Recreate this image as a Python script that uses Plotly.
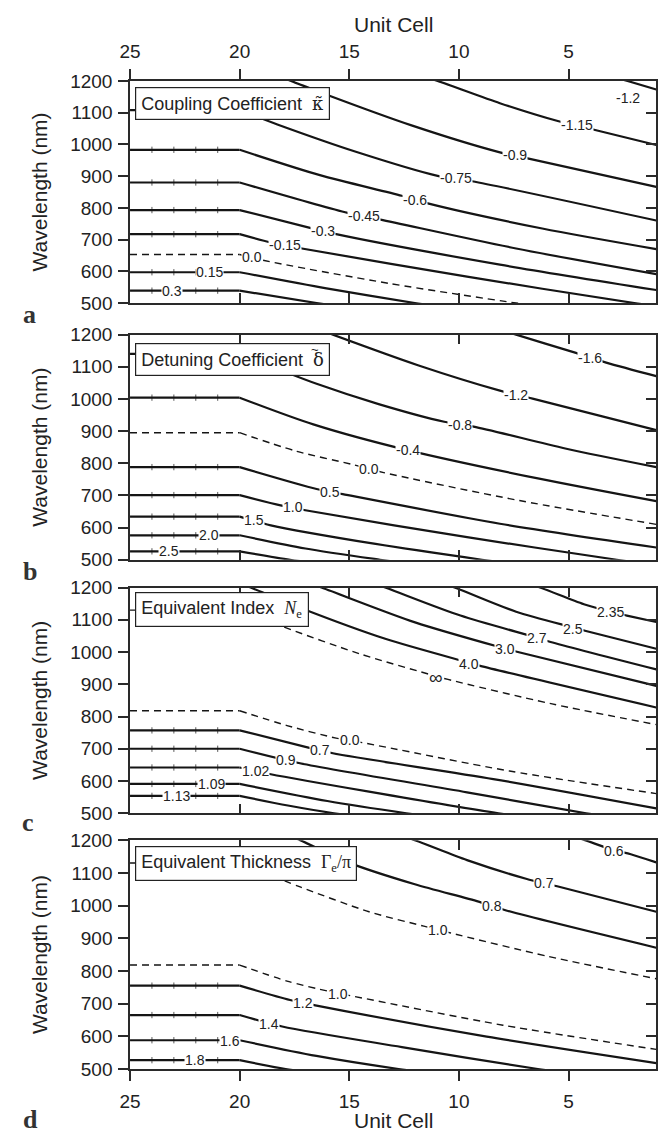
import plotly.graph_objects as go

# ---------------- data ----------------
UNIT_TICKS = [25, 20, 15, 10, 5]
WL_TICKS = [500, 600, 700, 800, 900, 1000, 1100, 1200]
UNIT_FLAT = [25, 24, 23, 22, 21, 20]

# (a) coupling coefficient
A_LEVELS = ["-1.2", "-1.15", "-0.9", "-0.75", "-0.6", "-0.45", "-0.3", "-0.15", "0.0", "0.15", "0.3"]
A_FLAT = [None, None, None, 1108, 983, 880, 793, 717, 653, 597, 539]
A_CURVE_X = [
    [4.0, 2.31, 1.0],
    [13.0, 10.97, 8.13, 5.45, 3.88, 1.0],
    [19.0, 17.54, 16.12, 12.16, 8.13, 6.87, 1.0],
    [18.28, 14.7, 10.97, 9.4, 1.0],
    [16.34, 12.61, 11.42, 6.2, 1.0],
    [15.07, 13.58, 7.39, 1.0],
    [16.79, 15.6, 8.13, 1.0],
    [18.58, 17.16, 9.63, 2.0, 1.0],
    [18.88, 13.2, 7.39, 5.0],
    [16.04, 12.01, 10.0],
    [16.49, 14.0],
]
A_CURVE_Y = [
    [1233, 1200, 1173],
    [1245, 1200, 1130, 1073, 1047, 998],
    [1236, 1197, 1159, 1060, 975, 956, 866],
    [1063, 977, 901, 884, 760],
    [903, 838, 814, 735, 670],
    [784, 763, 672, 591],
    [737, 717, 621, 541],
    [691, 672, 583, 500, 490],
    [634, 562, 500, 478],
    [546, 500, 480],
    [500, 474],
]
A_LABEL_X = [2.31, 4.63, 7.46, 10.15, 12.01, 14.33, 16.19, 17.91, 19.45, 21.38, 23.1]
A_LABEL_Y = [1145, 1062, 967, 893, 826, 774, 727, 682, 646, 597, 539]

# (b) detuning coefficient
B_LEVELS = ["-1.6", "-1.2", "-0.8", "-0.4", "0.0", "0.5", "1.0", "1.5", "2.0", "2.5"]
B_FLAT = [None, None, 1140, 1004, 895, 788, 701, 634, 576, 526]
B_CURVE_X = [
    [9.0, 7.39, 4.7, 3.28, 1.0],
    [17.5, 15.75, 11.87, 8.13, 6.64, 1.0],
    [16.49, 13.66, 10.67, 9.33, 5.15, 1.0],
    [16.64, 12.3, 6.34, 1.0],
    [17.39, 14.85, 13.43, 7.24, 1.0],
    [16.49, 15.3, 8.13, 1.0],
    [18.13, 16.94, 9.63, 2.8, 1.0],
    [18.58, 13.8, 8.95, 7.0],
    [17.0, 13.6, 12.0],
    [17.7, 16.0],
]
B_CURVE_Y = [
    [1236, 1200, 1144, 1113, 1071],
    [1245, 1200, 1105, 1026, 1001, 903],
    [1047, 984, 929, 914, 846, 788],
    [921, 840, 752, 682],
    [837, 796, 771, 684, 610],
    [720, 704, 612, 538],
    [669, 653, 570, 500, 482],
    [607, 549, 500, 482],
    [535, 500, 485],
    [500, 485],
]
B_LABEL_X = [4.0, 7.39, 9.93, 12.3, 14.1, 15.88, 17.56, 19.35, 21.42, 23.2]
B_LABEL_Y = [1127, 1013, 920, 840, 783, 712, 664, 624, 576, 526]

# (c) equivalent index
C_LEVELS = ["2.35", "2.5", "2.7", "3.0", "4.0", "\u221e", "0.0", "0.7", "0.9", "1.02", "1.09", "1.13"]
C_FLAT = [None, None, None, None, None, 1130, 818, 757, 700, 642, 591, 554]
C_CURVE_X = [
    [8.0, 6.3, 4.3, 3.1, 2.34, 1.0],
    [11.5, 10.2, 7.39, 4.78, 4.25, 1.0],
    [15.0, 13.36, 9.93, 6.42, 5.82, 1.0],
    [18.0, 16.27, 12.0, 7.91, 7.31, 1.0],
    [20.5, 19.5, 17.16, 13.36, 9.55, 9.03, 1.0],
    [18.13, 14.55, 11.04, 10.5, 5.75, 1.0],
    [17.84, 15.6, 14.25, 7.69, 1.0],
    [17.0, 15.75, 8.43, 1.0],
    [17.25, 9.63, 4.2, 2.0],
    [18.58, 14.1, 8.2, 6.0],
    [16.0, 12.4, 11.0],
    [17.8, 15.7, 14.0],
]
C_CURVE_Y = [
    [1240, 1200, 1148, 1125, 1113, 1093],
    [1230, 1200, 1125, 1076, 1066, 1010],
    [1240, 1200, 1113, 1044, 1031, 946],
    [1242, 1200, 1092, 1011, 1000, 895],
    [1227, 1200, 1135, 1041, 967, 957, 828],
    [1081, 995, 925, 915, 839, 775],
    [772, 733, 717, 631, 561],
    [706, 686, 606, 515],
    [655, 565, 500, 478],
    [621, 567, 500, 480],
    [538, 500, 487],
    [524, 500, 485],
]
C_LABEL_X = [3.1, 4.78, 6.42, 7.91, 9.55, 11.04, 14.97, 16.32, 17.88, 19.26, 21.28, 22.9]
C_LABEL_Y = [1124, 1072, 1042, 1008, 964, 922, 727, 697, 664, 630, 591, 554]

# (d) equivalent thickness
D_LEVELS = ["0.6", "0.7", "0.8", "1.0", "1.0", "1.2", "1.4", "1.6", "1.8"]
D_FLAT = [None, None, None, 1130, 818, 755, 665, 588, 527]
D_CURVE_X = [
    [6.0, 4.25, 2.91, 2.16, 1.0],
    [14.0, 12.01, 9.63, 6.94, 5.52, 1.0],
    [19.0, 17.24, 14.93, 12.01, 9.1, 7.84, 1.0],
    [17.24, 14.1, 11.6, 10.37, 5.9, 1.0],
    [17.84, 15.9, 14.85, 7.99, 1.0],
    [17.7, 16.49, 8.73, 1.0],
    [18.06, 12.6, 6.4, 4.0],
    [16.5, 12.75, 11.0],
    [17.9, 16.0],
]
D_CURVE_Y = [
    [1240, 1200, 1169, 1157, 1132],
    [1245, 1200, 1139, 1082, 1059, 981],
    [1250, 1200, 1129, 1065, 1012, 985, 871],
    [1057, 981, 937, 916, 844, 776],
    [769, 737, 723, 634, 560],
    [711, 694, 599, 518],
    [630, 567, 500, 478],
    [540, 500, 485],
    [500, 482],
]
D_LABEL_X = [2.91, 6.12, 8.51, 10.97, 15.52, 17.09, 18.66, 20.42, 22.05]
D_LABEL_Y = [1167, 1068, 998, 926, 730, 701, 637, 587, 527]

SERIF = "'Liberation Serif', 'Times New Roman', serif"
GREEK = "'DejaVu Serif', serif"
TITLES = [
    "Coupling Coefficient  <span style=\"font-family:" + GREEK + "\">\u03ba\u0303</span>",
    "Detuning Coefficient  <span style=\"font-family:" + GREEK + "\">\u03b4</span>",
    "Equivalent Index  <span style=\"font-family:" + SERIF + "\"><i>N</i><sub>e</sub></span>",
    "Equivalent Thickness  <span style=\"font-family:" + SERIF + "\">\u0393<sub>e</sub>/\u03c0</span>",
]
PANEL_LETTERS = ["a", "b", "c", "d"]
DASHED = [{"0.0"}, {"0.0"}, {"0.0", "\u221e"}, {"1.0"}]

# ---------------- layout constants ----------------
W, H = 671, 1144
PX_L, PX_R = 121, 656
PANELS_PX = [(72.3, 298.5), (330.7, 560.0), (588.3, 818.3), (845.7, 1078.8)]
BOX_PX = [(126, 78), (126, 339), (126, 593), (126, 852)]
DELTA_TILDE_PX = (309.5, 346)
LETTER_PX = [(19, 310), (19, 572), (17, 828), (20, 1130)]
INK = "#151515"
AX = "#2a2a2a"
SANS = "'Liberation Sans', Arial, Helvetica, sans-serif"

panels = [
    (A_LEVELS, A_FLAT, A_CURVE_X, A_CURVE_Y, A_LABEL_X, A_LABEL_Y),
    (B_LEVELS, B_FLAT, B_CURVE_X, B_CURVE_Y, B_LABEL_X, B_LABEL_Y),
    (C_LEVELS, C_FLAT, C_CURVE_X, C_CURVE_Y, C_LABEL_X, C_LABEL_Y),
    (D_LEVELS, D_FLAT, D_CURVE_X, D_CURVE_Y, D_LABEL_X, D_LABEL_Y),
]

fig = go.Figure()
annotations = []
layout = dict(
    width=W, height=H, margin=dict(l=0, r=0, t=0, b=0),
    paper_bgcolor="white", plot_bgcolor="white", showlegend=False,
    font=dict(family=SANS, color="#222"),
)


def px_x(p):
    return p / W


def px_y(p):
    return 1 - p / H


for i, (levels, flat, cxs, cys, lxs, lys) in enumerate(panels):
    k = i + 1
    ov = i + 5
    xa = "x" if k == 1 else "x%d" % k
    ya = "y" if k == 1 else "y%d" % k
    top, bot = PANELS_PX[i]
    xdom = [px_x(PX_L), px_x(PX_R)]
    ydom = [px_y(bot), px_y(top)]

    common_x = dict(range=[25, 1], tickvals=UNIT_TICKS, showline=True, linecolor=AX,
                    linewidth=1.5, tickwidth=1.5, tickcolor=AX, ticklen=10,
                    showgrid=False, zeroline=False, domain=xdom, ticklabelstandoff=4,
                    tickfont=dict(size=19, family=SANS, color="#222"))
    common_y = dict(range=[500, 1200], tickvals=WL_TICKS, showline=True, linecolor=AX,
                    linewidth=1.5, tickwidth=1.5, tickcolor=AX, ticklen=10,
                    showgrid=False, zeroline=False, domain=ydom, ticklabelstandoff=2,
                    tickfont=dict(size=19, family=SANS, color="#222"))

    if k == 1:
        xprim = dict(common_x, side="top", ticks="outside", showticklabels=True, anchor=ya)
        xover = dict(common_x, side="bottom", ticks="inside", showticklabels=False,
                     overlaying=xa, anchor=ya)
    elif k == 4:
        xprim = dict(common_x, side="bottom", ticks="outside", showticklabels=True, anchor=ya)
        xover = dict(common_x, side="top", ticks="inside", showticklabels=False,
                     overlaying=xa, anchor=ya)
    else:
        xprim = dict(common_x, side="bottom", ticks="inside", showticklabels=False, anchor=ya)
        xover = dict(common_x, side="top", ticks="inside", showticklabels=False,
                     overlaying=xa, anchor=ya)
    yprim = dict(common_y, side="left", ticks="outside", showticklabels=True, anchor=xa)
    yover = dict(common_y, side="right", ticks="inside", showticklabels=False,
                 overlaying=ya, anchor=xa)

    layout["xaxis" if k == 1 else "xaxis%d" % k] = xprim
    layout["yaxis" if k == 1 else "yaxis%d" % k] = yprim
    layout["xaxis%d" % ov] = xover
    layout["yaxis%d" % ov] = yover

    # dummy trace so the mirrored (inside-tick) axes are drawn
    fig.add_trace(go.Scatter(x=[None], y=[None], xaxis="x%d" % ov, yaxis="y%d" % ov,
                             mode="lines", hoverinfo="skip", showlegend=False))

    for lev, f, xs, ys in zip(levels, flat, cxs, cys):
        dashed = lev in DASHED[i]
        lw = 1.4 if dashed else 2.2
        dash = "7px,5px" if dashed else "solid"
        xs = list(xs)
        ys = list(ys)
        if f is not None:
            fig.add_trace(go.Scatter(
                x=UNIT_FLAT, y=[f] * len(UNIT_FLAT), xaxis=xa, yaxis=ya,
                mode="lines" if dashed else "lines+markers",
                line=dict(color=INK, width=lw, dash=dash),
                marker=dict(symbol="line-ns", size=[0, 4.5, 4.5, 4.5, 4.5, 0], color=INK,
                            line=dict(width=1.0, color=INK)),
                hoverinfo="skip", showlegend=False))
            xs = [UNIT_FLAT[-1]] + xs
            ys = [f] + ys
        fig.add_trace(go.Scatter(
            x=xs, y=ys, xaxis=xa, yaxis=ya, mode="lines",
            line=dict(color=INK, width=lw, dash=dash, shape="spline", smoothing=0.8),
            hoverinfo="skip", showlegend=False))

    # contour labels
    for lev, lx, ly in zip(levels, lxs, lys):
        annotations.append(dict(
            x=lx, y=ly, xref=xa, yref=ya, text=lev, showarrow=False,
            font=dict(size=19 if lev == "\u221e" else 14, family=SANS, color="#222"),
            bgcolor="white", borderpad=0, xanchor="center", yanchor="middle"))

    # title box
    bx, by = BOX_PX[i]
    annotations.append(dict(
        x=px_x(bx), y=px_y(by), xref="paper", yref="paper", text=TITLES[i],
        showarrow=False, xanchor="left", yanchor="top", align="left",
        font=dict(size=18, family=SANS, color="#222"),
        bgcolor="white", bordercolor="#222", borderwidth=1.2, borderpad=5))

    # y-axis title
    annotations.append(dict(
        x=px_x(29), y=px_y((top + bot) / 2), xref="paper", yref="paper",
        text="Wavelength (nm)", textangle=-90, showarrow=False,
        xanchor="center", yanchor="middle", font=dict(size=21, family=SANS, color="#222")))

    # panel letter
    lx, ly = LETTER_PX[i]
    annotations.append(dict(
        x=px_x(lx), y=px_y(ly), xref="paper", yref="paper",
        text="<b>%s</b>" % PANEL_LETTERS[i], showarrow=False,
        xanchor="center", yanchor="middle", font=dict(size=26, family=SERIF, color="#333")))

# tilde accent over the delta of panel b's title
annotations.append(dict(
    x=px_x(DELTA_TILDE_PX[0]), y=px_y(DELTA_TILDE_PX[1]), xref="paper", yref="paper",
    text="~", showarrow=False, xanchor="center", yanchor="middle",
    font=dict(size=13, family=SANS, color="#222")))

# x-axis titles (top and bottom)
for ty in (15, 1131):
    annotations.append(dict(
        x=px_x((PX_L + PX_R) / 2), y=px_y(ty), xref="paper", yref="paper",
        text="Unit Cell", showarrow=False, xanchor="center", yanchor="middle",
        font=dict(size=21, family=SANS, color="#222")))

layout["annotations"] = annotations
fig.update_layout(**layout)
fig.write_html("out.html")
